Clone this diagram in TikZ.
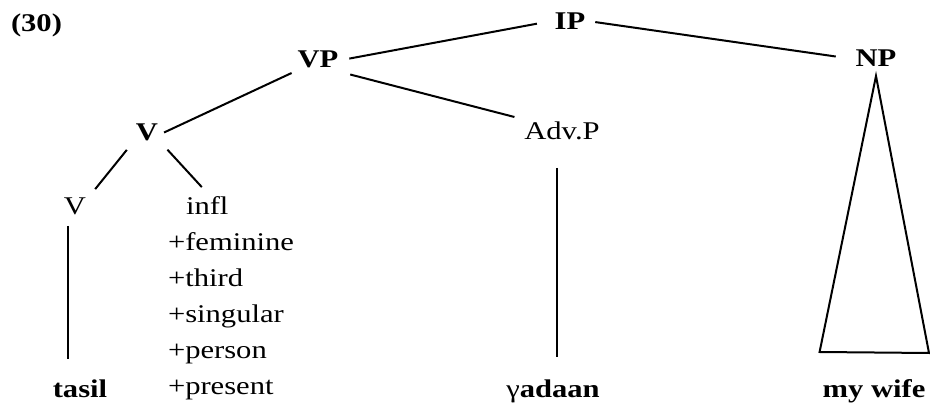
\documentclass[tikz,border=0pt]{standalone}
\usepackage{fontspec}
\setmainfont{Liberation Serif}[FakeStretch=1.2]

\begin{document}
\begin{tikzpicture}[x=1pt,y=-1pt,line width=2pt,
    lbl/.style={font=\fontsize{25.5}{30}\selectfont,inner xsep=5pt,inner ysep=4pt,
                text height=17pt,text depth=0pt,anchor=base},
    cat/.style={lbl,font=\fontsize{25.5}{30}\selectfont\bfseries},
    feat/.style={lbl,anchor=base west}]
  \useasboundingbox (0,0) rectangle (930,406);

  \node[cat,anchor=base west] (ex)     at (5,32)    {(30)};
  \node[cat]                  (IP)     at (570,30)  {IP};
  \node[cat]                  (VP)     at (318,68)  {VP};
  \node[cat]                  (NP)     at (876,67)  {NP};
  \node[cat]                  (V)      at (147,141) {V};
  \node[lbl]                  (AdvP)   at (562,140) {Adv.P};
  \node[lbl]                  (Vl)     at (75,215)  {V};
  \node[feat]                 (infl)   at (180,215) {infl};
  \foreach \f [count=\i] in {feminine,third,singular,person,present}
    \node[feat] (f\i) at (162,215+36*\i) {+\f};
  \node[cat]                  (tasil)  at (80,397)  {tasil};
  \node[cat]                  (yadaan) at (553,397) {{\mdseries γ}adaan};
  \node[cat]                  (wife)   at (874,397) {my wife};

  \draw[shorten <=12pt,shorten >=5pt] (IP.west)        -- (VP.east);
  \draw[shorten <=4pt,shorten >=14pt] (IP.east)        -- (NP.west);
  \draw                               (VP.south west)  -- (V.east);
  \draw[shorten <=6pt,shorten >=4pt]  (VP.south east)  -- (AdvP.north west);
  \draw[shorten <=5pt,shorten >=5pt]  (V.south west)   -- (Vl.north east);
  \draw[shorten <=5pt,shorten >=8pt]  (V.south east)   -- (infl.north);

  \coordinate (vl) at ([xshift=-7pt]Vl.south);
  \coordinate (ad) at ([xshift=-5pt]AdvP.south);
  \draw[shorten <=6pt,shorten >=16pt]  (vl) -- (vl |- tasil.north);
  \draw[shorten <=23pt,shorten >=18pt] (ad) -- (ad |- yadaan.north);

  % roof over the NP
  \coordinate (apex) at ([yshift=-4pt]NP.south);
  \coordinate (bl)   at ([shift={(3pt,23pt)}]wife.north west);
  \coordinate (br)   at (929,353);
  \draw (apex) -- (bl) -- (br) -- cycle;
\end{tikzpicture}
\end{document}
